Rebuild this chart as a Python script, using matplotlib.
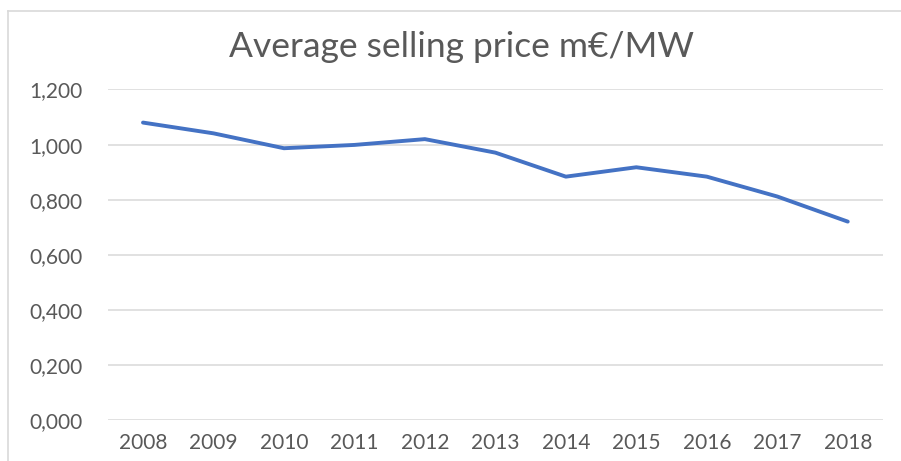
import matplotlib.pyplot as plt
from matplotlib.lines import Line2D

years = ["2008", "2009", "2010", "2011", "2012", "2013", "2014", "2015", "2016", "2017", "2018"]
price = [1.080, 1.041, 0.987, 0.999, 1.020, 0.971, 0.884, 0.918, 0.884, 0.812, 0.721]
yticks = [0.0, 0.2, 0.4, 0.6, 0.8, 1.0, 1.2]

plt.rcParams['font.family'] = ['Lato', 'DejaVu Sans']

fig = plt.figure(figsize=(9.01, 4.61), dpi=100)
ax = fig.add_axes([0.1196, 0.0879, 0.8604, 0.7180])

x = range(len(years))
ax.plot(x, price, color='#4472C4', linewidth=2.8, solid_capstyle='round')

ax.set_xlim(-0.5, len(years) - 0.5)
ax.set_ylim(0, 1.2)
ax.set_yticks(yticks)
ax.set_yticklabels([f"{v:.3f}".replace('.', ',') for v in yticks])
ax.set_xticks(list(x))
ax.set_xticklabels(years)

ax.grid(axis='y', color='#D9D9D9', linewidth=1.1)
ax.set_axisbelow(True)
for s in ax.spines.values():
    s.set_visible(False)
ax.tick_params(length=0, labelsize=15, colors='#595959', pad=9)
ax.tick_params(axis='y', pad=18)

fig.text(0.512, 0.897, "Average selling price m€/MW", ha='center', va='center',
         fontsize=25.5, color='#595959')

# outer chart border
fig.add_artist(Line2D([8 / 901, 8 / 901], [0, 1 - 11 / 461], color='#D9D9D9', linewidth=1.2))
fig.add_artist(Line2D([8 / 901, 1], [1 - 11 / 461, 1 - 11 / 461], color='#D9D9D9', linewidth=1.2))

fig.savefig("out.png", dpi=100, facecolor='white')
